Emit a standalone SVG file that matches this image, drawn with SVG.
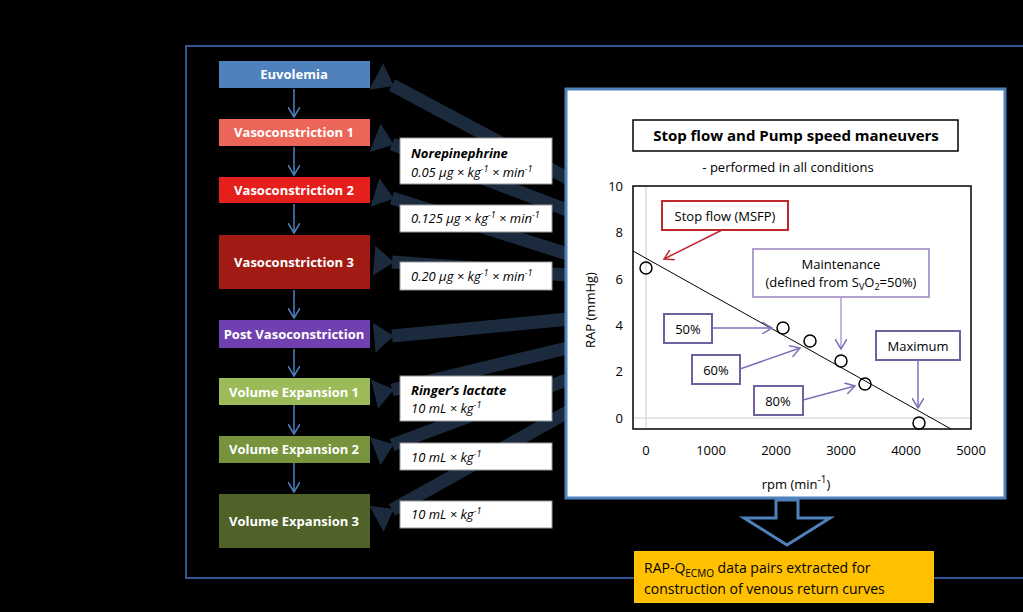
<svg xmlns="http://www.w3.org/2000/svg" width="1023" height="612" viewBox="0 0 1023 612">
<style>
text{font-family:"Open Sans","Liberation Sans",sans-serif}
.nb{font-size:13px;font-weight:bold;fill:#fff;text-anchor:middle}
.tb{fill:#fff;stroke:#999;stroke-width:1}
.it{font-size:13px;font-style:italic;fill:#000}
.wa{stroke:#1b2a3c;stroke-width:13;fill:none;marker-end:url(#wh)}
.sa{stroke:#4f81bd;stroke-width:1.5;fill:none;marker-end:url(#sh)}
.ax{font-size:13px;fill:#000}
.pb{fill:#fff;stroke:#7060a0;stroke-width:2}
.pa{stroke:#8070b8;stroke-width:1.5;fill:none;marker-end:url(#ph)}
</style>
<defs>
<marker id="wh" markerUnits="userSpaceOnUse" markerWidth="20" markerHeight="30" refX="2" refY="15" orient="auto" viewBox="0 0 20 30"><path d="M0,0 L20,15 L0,30 Z" fill="#1b2a3c" transform="translate(20,30) rotate(180)"/></marker>
<marker id="sh" markerUnits="userSpaceOnUse" markerWidth="12" markerHeight="12" refX="10" refY="6" orient="auto"><path d="M0,0 L10,6 L0,12" fill="none" stroke="#4f81bd" stroke-width="1.5"/></marker>
<marker id="ph" markerUnits="userSpaceOnUse" markerWidth="12" markerHeight="12" refX="10" refY="6" orient="auto"><path d="M0,0 L10,6 L0,12" fill="none" stroke="#8070b8" stroke-width="1.5"/></marker>
<marker id="rh" markerUnits="userSpaceOnUse" markerWidth="12" markerHeight="12" refX="10" refY="6" orient="auto"><path d="M0,0 L10,6 L0,12" fill="none" stroke="#c0282d" stroke-width="1.5"/></marker>
</defs>
<rect width="1023" height="612" fill="#000"/>
<rect x="186" y="46" width="845" height="532" fill="none" stroke="#2f5597" stroke-width="2"/>
<g id="connectors">
<line class="wa" x1="580" y1="185" x2="392" y2="85" transform=""/>
<line class="wa" x1="580" y1="215" x2="392" y2="144"/>
<line class="wa" x1="580" y1="258" x2="392" y2="198"/>
<line class="wa" x1="580" y1="276" x2="392" y2="262"/>
<line class="wa" x1="580" y1="318" x2="392" y2="336"/>
<line class="wa" x1="580" y1="345" x2="392" y2="390"/>
<line class="wa" x1="580" y1="375" x2="392" y2="445"/>
<line class="wa" x1="580" y1="405" x2="392" y2="510"/>
<line class="sa" x1="294" y1="89" x2="294" y2="117"/>
<line class="sa" x1="294" y1="147" x2="294" y2="175"/>
<line class="sa" x1="294" y1="204" x2="294" y2="233"/>
<line class="sa" x1="294" y1="290" x2="294" y2="318"/>
<line class="sa" x1="294" y1="349" x2="294" y2="376"/>
<line class="sa" x1="294" y1="405" x2="294" y2="434"/>
<line class="sa" x1="294" y1="463" x2="294" y2="492"/>
</g>
<g id="n-euv"><rect x="219" y="61" width="151" height="27" fill="#4f81bd"/><text class="nb" x="294" y="79">Euvolemia</text></g>
<g id="n-v1"><rect x="219" y="119" width="151" height="27" fill="#ec6559"/><text class="nb" x="294" y="137">Vasoconstriction 1</text></g>
<g id="n-v2"><rect x="219" y="177" width="151" height="26" fill="#e5201c"/><text class="nb" x="294" y="195">Vasoconstriction 2</text></g>
<g id="n-v3"><rect x="219" y="235" width="151" height="54" fill="#a11a14"/><text class="nb" x="294" y="267">Vasoconstriction 3</text></g>
<g id="n-post"><rect x="219" y="320" width="151" height="28" fill="#7040b0"/><text class="nb" x="294" y="339">Post Vasoconstriction</text></g>
<g id="n-ve1"><rect x="219" y="378" width="151" height="27" fill="#9bbb59"/><text class="nb" x="294" y="397">Volume Expansion 1</text></g>
<g id="n-ve2"><rect x="219" y="436" width="151" height="27" fill="#77933c"/><text class="nb" x="294" y="454">Volume Expansion 2</text></g>
<g id="n-ve3"><rect x="219" y="494" width="151" height="54" fill="#4f6228"/><text class="nb" x="294" y="526">Volume Expansion 3</text></g>
<g id="t1"><rect class="tb" x="400" y="138" width="152" height="46"/><text class="it" x="411" y="158" font-weight="bold">Norepinephrine</text><text class="it" x="411" y="177">0.05 µg × kg<tspan dy="-5" font-size="9">-1</tspan><tspan dy="5"> × min</tspan><tspan dy="-5" font-size="9">-1</tspan></text></g>
<g id="t2"><rect class="tb" x="400" y="205" width="152" height="27"/><text class="it" x="411" y="223">0.125 µg × kg<tspan dy="-5" font-size="9">-1</tspan><tspan dy="5"> × min</tspan><tspan dy="-5" font-size="9">-1</tspan></text></g>
<g id="t3"><rect class="tb" x="400" y="262" width="152" height="28"/><text class="it" x="411" y="281">0.20 µg × kg<tspan dy="-5" font-size="9">-1</tspan><tspan dy="5"> × min</tspan><tspan dy="-5" font-size="9">-1</tspan></text></g>
<g id="t4"><rect class="tb" x="400" y="376" width="152" height="45"/><text class="it" x="411" y="395" font-weight="bold">Ringer’s lactate</text><text class="it" x="411" y="413">10 mL × kg<tspan dy="-5" font-size="9">-1</tspan></text></g>
<g id="t5"><rect class="tb" x="400" y="443" width="152" height="27"/><text class="it" x="411" y="462">10 mL × kg<tspan dy="-5" font-size="9">-1</tspan></text></g>
<g id="t6"><rect class="tb" x="400" y="501" width="152" height="27"/><text class="it" x="411" y="519">10 mL × kg<tspan dy="-5" font-size="9">-1</tspan></text></g>
<g id="chart">
<rect x="566" y="89" width="439" height="409" fill="#fff" stroke="#4f81bd" stroke-width="3"/>
<rect x="633" y="120" width="325" height="31" fill="#fff" stroke="#000" stroke-width="1.5"/>
<text x="796" y="141" font-size="15" font-weight="bold" text-anchor="middle">Stop flow and Pump speed maneuvers</text>
<text x="788" y="172" font-size="13" text-anchor="middle">- performed in all conditions</text>
<line x1="646" y1="186" x2="646" y2="429" stroke="#ccc"/>
<line x1="633" y1="418" x2="971" y2="418" stroke="#ddd" stroke-width="1.5"/>
<rect x="633" y="186" width="338" height="243" fill="none" stroke="#000" stroke-width="1.5"/>
<g class="ax" text-anchor="end">
<text x="623" y="191">10</text><text x="623" y="237">8</text><text x="623" y="284">6</text><text x="623" y="330">4</text><text x="623" y="376">2</text><text x="623" y="423">0</text>
</g>
<g class="ax" text-anchor="middle">
<text x="646" y="455">0</text><text x="711" y="455">1000</text><text x="776" y="455">2000</text><text x="841" y="455">3000</text><text x="906" y="455">4000</text><text x="971" y="455">5000</text>
<text x="796" y="489">rpm (min<tspan dy="-6" font-size="10">-1</tspan><tspan dy="6">)</tspan></text>
</g>
<text class="ax" transform="translate(595,310) rotate(-90)" text-anchor="middle">RAP (mmHg)</text>
<line x1="633" y1="251" x2="951" y2="429" stroke="#000" stroke-width="1"/>
<g fill="none" stroke="#000" stroke-width="1.5">
<circle cx="646" cy="268" r="6"/><circle cx="783" cy="328" r="6"/><circle cx="810" cy="341" r="6"/><circle cx="841" cy="361" r="6"/><circle cx="865" cy="384" r="6"/><circle cx="919" cy="423" r="6"/>
</g>
<rect x="662" y="201" width="126" height="29" fill="#fff" stroke="#c0282d" stroke-width="2"/>
<text class="ax" x="725" y="221" text-anchor="middle">Stop flow (MSFP)</text>
<line x1="722" y1="230" x2="664" y2="259" stroke="#c0282d" stroke-width="1.5" marker-end="url(#rh)"/>
<rect x="753" y="249" width="176" height="48" fill="#fff" stroke="#b0a0d0" stroke-width="2"/>
<text class="ax" x="841" y="269" text-anchor="middle">Maintenance</text>
<text class="ax" x="841" y="287" text-anchor="middle">(defined from S<tspan dy="3" font-size="9">V</tspan><tspan dy="-3">O</tspan><tspan dy="3" font-size="9">2</tspan><tspan dy="-3">=50%)</tspan></text>
<line x1="841" y1="297" x2="841" y2="349" stroke="#b0a0d0" stroke-width="1.5" marker-end="url(#ph)"/>
<rect class="pb" x="664" y="314" width="48" height="29"/><text class="ax" x="688" y="334" text-anchor="middle">50%</text>
<line class="pa" x1="712" y1="328" x2="772" y2="328"/>
<rect class="pb" x="692" y="355" width="48" height="29"/><text class="ax" x="716" y="375" text-anchor="middle">60%</text>
<line class="pa" x1="740" y1="369" x2="800" y2="348"/>
<rect class="pb" x="754" y="386" width="49" height="29"/><text class="ax" x="778" y="406" text-anchor="middle">80%</text>
<line class="pa" x1="803" y1="400" x2="855" y2="386"/>
<rect class="pb" x="876" y="331" width="84" height="29"/><text class="ax" x="918" y="351" text-anchor="middle">Maximum</text>
<line class="pa" x1="918" y1="360" x2="918" y2="408"/>
</g>
<g id="down-arrow"><path d="M776,500 L798,500 L798,518 L830,518 L787,545 L744,518 L776,518 Z" fill="#000" stroke="#4f81bd" stroke-width="3"/></g>
<g id="result"><rect x="634" y="551" width="300" height="52" fill="#ffc000"/>
<text x="644" y="573" font-size="14" fill="#000">RAP-Q<tspan dy="4" font-size="10">ECMO</tspan><tspan dy="-4"> data pairs extracted for</tspan></text>
<text x="644" y="594" font-size="14" fill="#000">construction of venous return curves</text></g>
</svg>
